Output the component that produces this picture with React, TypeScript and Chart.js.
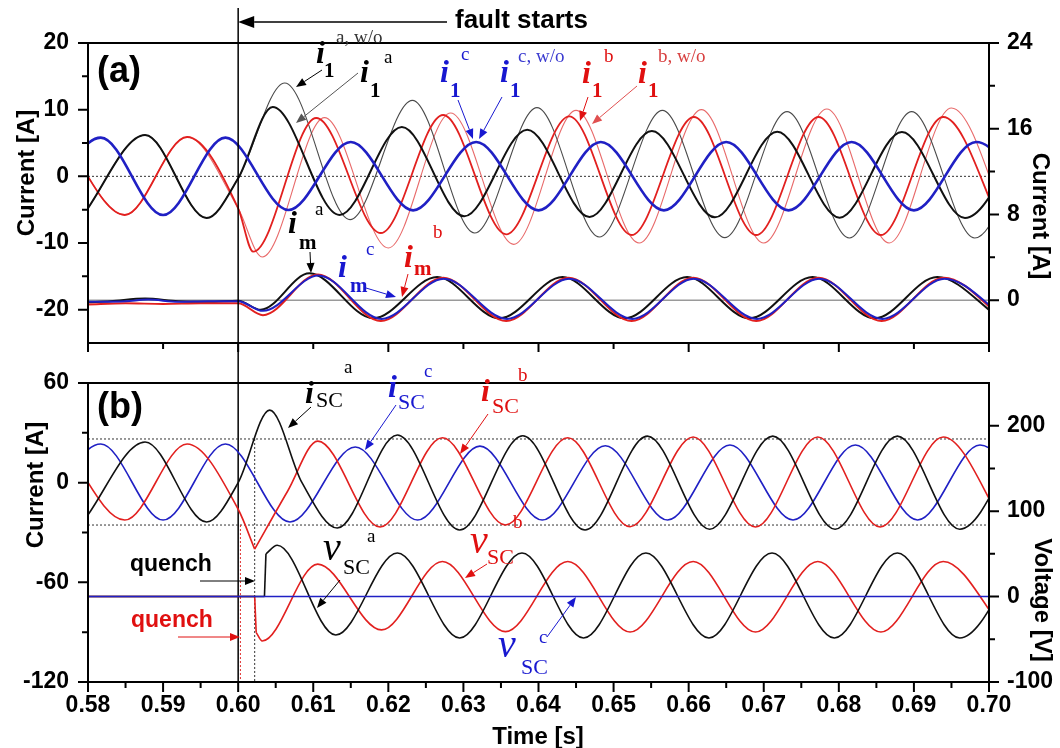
import React, { useEffect, useRef } from 'react';
import { Chart, registerables } from 'chart.js';

Chart.register(...registerables);

type Pt = [number, number];

// ---------- axes / ticks ----------
const xTicks = [0.58, 0.59, 0.6, 0.61, 0.62, 0.63, 0.64, 0.65, 0.66, 0.67, 0.68, 0.69, 0.7];
const xMinorTicks = [0.585, 0.595, 0.605, 0.615, 0.625, 0.635, 0.645, 0.655, 0.665, 0.675, 0.685, 0.695];
const aLeftTicks = [-20, -10, 0, 10, 20];
const aLeftMinor = [-15, -5, 5, 15];
const aRightTicks = [0, 8, 16, 24];
const aRightMinor = [4, 12, 20];
const bLeftTicks = [-120, -60, 0, 60];
const bLeftMinor = [-90, -30, 30];
const bRightTicks = [-100, 0, 100, 200];
const bRightMinor = [-50, 50, 150];

const faultTime = 0.6;
const quenchBlack = 0.6022;
const quenchRed = 0.6003;
const aZeroLevel = 0;
const aRightZero = 0;
const bLimitLevels = [26.3, -25.5];

// ---------- panel (a): i1 (left axis), peaks / troughs ----------
const i1c: Pt[] = [
  [0.5733, -5.8], [0.5817, 5.8], [0.59, -5.8], [0.5983, 5.8], [0.6067, -5.05], [0.615, 5.15], [0.6233, -5.1],
  [0.6317, 5.15], [0.64, -5.1], [0.6483, 5.15], [0.6567, -5.1], [0.665, 5.15], [0.6733, -5.1], [0.6817, 5.15],
  [0.69, -5.1], [0.6983, 5.15], [0.7067, -5.1],
];
const i1a: Pt[] = [
  [0.5793, -5.9], [0.5876, 6.2], [0.5958, -6.25], [0.6, -0.3], [0.6046, 10.4], [0.6135, -5.8], [0.6218, 7.4],
  [0.6301, -6.0], [0.6385, 7.0], [0.6468, -6.1], [0.6551, 6.8], [0.6635, -6.15], [0.6718, 6.7], [0.6801, -6.2],
  [0.6884, 6.65], [0.6968, -6.25], [0.7051, 6.65],
];
const i1aWo: Pt[] = [
  [0.5793, -5.9], [0.5876, 6.2], [0.5958, -6.25], [0.6, -0.3], [0.6062, 14.0], [0.6149, -6.5], [0.6232, 11.4],
  [0.6315, -8.5], [0.6398, 10.3], [0.6481, -9.1], [0.6565, 9.9], [0.6648, -9.2], [0.6731, 9.7], [0.6814, -9.25],
  [0.6897, 9.7], [0.6981, -9.25], [0.7064, 9.7],
];
const i1b: Pt[] = [
  [0.5766, 5.9], [0.5849, -5.8], [0.5932, 5.9], [0.6, -4.8], [0.602, -11.3], [0.6104, 8.75], [0.619, -8.5],
  [0.6273, 9.2], [0.6357, -8.7], [0.6441, 9.0], [0.6524, -8.8], [0.6607, 8.9], [0.669, -8.8], [0.6773, 8.9],
  [0.6856, -8.8], [0.6939, 8.9], [0.7022, -8.8],
];
const i1bWo: Pt[] = [
  [0.5766, 5.9], [0.5849, -5.8], [0.5932, 5.9], [0.6, -4.8], [0.6032, -12.1], [0.6115, 8.8], [0.62, -10.75],
  [0.6283, 9.5], [0.6367, -10.2], [0.645, 9.9], [0.6534, -10.0], [0.6617, 10.0], [0.67, -10.0], [0.6784, 10.1],
  [0.6867, -10.0], [0.695, 10.25], [0.7034, -10.0],
];

// ---------- panel (a): im (right axis) ----------
const ima: Pt[] = [
  [0.58, -0.2], [0.583, -0.1], [0.5876, 0.15], [0.592, -0.1], [0.596, -0.15], [0.6, -0.05], [0.603, -0.9],
  [0.6095, 2.5], [0.618, -1.7], [0.6265, 2.15], [0.6348, -1.7], [0.6432, 2.15], [0.6515, -1.7], [0.6598, 2.15],
  [0.6681, -1.7], [0.6765, 2.15], [0.6848, -1.7], [0.6931, 2.15], [0.7015, -1.7],
];
const imb: Pt[] = [
  [0.58, -0.4], [0.585, -0.3], [0.59, -0.35], [0.595, -0.3], [0.6, -0.3], [0.6033, -1.4], [0.6106, 2.4],
  [0.619, -1.95], [0.6273, 2.1], [0.6357, -1.95], [0.644, 2.1], [0.6524, -1.95], [0.6606, 2.1], [0.669, -1.95],
  [0.6773, 2.1], [0.6857, -1.95], [0.694, 2.1], [0.7023, -1.95],
];
const imc: Pt[] = [
  [0.58, -0.15], [0.585, -0.1], [0.588, 0.05], [0.592, -0.15], [0.596, -0.1], [0.6, -0.1], [0.6033, -1.0],
  [0.6107, 2.3], [0.6191, -1.75], [0.6274, 2.0], [0.6358, -1.75], [0.6441, 2.0], [0.6525, -1.75], [0.6607, 2.0],
  [0.6691, -1.75], [0.6774, 2.0], [0.6858, -1.75], [0.6941, 2.0], [0.7024, -1.75],
];

// ---------- panel (b): iSC (left axis) ----------
const iSCa: Pt[] = [
  [0.5795, -22.5], [0.5876, 24.5], [0.5958, -23.7], [0.6, 0], [0.6042, 43.7], [0.6085, 0], [0.6132, -27.3],
  [0.6212, 28.7], [0.6295, -28.5], [0.6379, 28.2], [0.6462, -28.5], [0.6545, 28], [0.6628, -28], [0.6712, 28],
  [0.6795, -28], [0.6878, 28], [0.6961, -28], [0.7045, 28],
];
const iSCbPre: Pt[] = [
  [0.5766, 23.3], [0.5849, -22.5], [0.5932, 23.3], [0.6, -16], [0.6022, -40],
];
const iSCbPost: Pt[] = [
  [0.6022, -40], [0.6066, -5], [0.6106, 25], [0.6189, -26.7], [0.6272, 27], [0.6356, -25.5], [0.6439, 27],
  [0.6522, -26.5], [0.6606, 27.5], [0.6689, -26.7], [0.6772, 27.5], [0.6855, -26.7], [0.6939, 27.5],
  [0.7022, -26.7],
];
const iSCc: Pt[] = [
  [0.5733, -22.5], [0.5817, 23.3], [0.59, -22.5], [0.5983, 23.3], [0.6069, -23.7], [0.6156, 21.5],
  [0.6239, -22.5], [0.6322, 22], [0.6405, -22.5], [0.6489, 22.2], [0.6572, -22.5], [0.6655, 22.7],
  [0.6739, -22.5], [0.6822, 22.7], [0.6905, -22.5], [0.6988, 22.7], [0.7072, -22.5],
];

// ---------- panel (b): vSC (right axis) ----------
const vSCaPre: Pt[] = [[0.58, 0], [0.6035, 0]];
const vSCaJump: Pt[] = [[0.6035, 0], [0.6037, 50]];
const vSCaPost: Pt[] = [
  [0.6037, 50], [0.6052, 60], [0.613, -45], [0.6212, 51], [0.6295, -48.5], [0.6378, 51], [0.646, -48.5],
  [0.6543, 51], [0.6627, -48.5], [0.6711, 51], [0.6794, -48.5], [0.6878, 51], [0.6961, -48.5], [0.7045, 51],
];
const vSCbPre: Pt[] = [[0.58, 0], [0.6022, 0]];
const vSCbDrop: Pt[] = [[0.6022, 0], [0.6024, -42]];
const vSCbPost: Pt[] = [
  [0.6024, -42], [0.6032, -52], [0.6106, 38], [0.6191, -39], [0.6272, 41], [0.6356, -41], [0.6439, 41],
  [0.6522, -41.5], [0.6606, 41], [0.6689, -41.5], [0.6772, 41], [0.6856, -41.5], [0.6939, 41], [0.7022, -41.5],
];
const vSCc: Pt[] = [[0.58, 0], [0.7, 0]];

// ---------- styles ----------
const SANS = '"Liberation Sans", Arial, sans-serif';
const SERIF = '"Liberation Serif", "Times New Roman", serif';
const BLACK = '#111111';
const BLACK_L = '#4a4a4a';
const RED = '#e2201f';
const RED_L = '#e86a6a';
const BLUE = '#2020c4';
const TXT_RED = '#e01010';
const TXT_BLUE = '#1818d0';

const MAIN = `italic bold 32px ${SERIF}`;
const SUB = `bold 21px ${SERIF}`;
const SUP = `19px ${SERIF}`;
const SCF = `22px ${SERIF}`;
const VF = `italic 40px ${SERIF}`;

const ds = (pts: Pt[], color: string, width: number, yAxisID: string, smooth = true) => ({
  data: pts.map(([x, y]) => ({ x, y })),
  borderColor: color,
  backgroundColor: color,
  borderWidth: width,
  pointRadius: 0,
  pointHoverRadius: 0,
  tension: 0,
  cubicInterpolationMode: smooth ? 'monotone' : 'default',
  yAxisID,
  fill: false,
  borderJoinStyle: 'round',
});

const tickFont = { family: SANS, size: 23, weight: 'bold' };

const yScale = (position: string, min: number, max: number, ticks: number[], width: number) => ({
  type: 'linear',
  position,
  min,
  max,
  grid: { display: false, drawTicks: false },
  border: { display: false },
  ticks: { font: tickFont, color: '#000', padding: position === 'left' ? 19 : 18, callback: (v: any) => String(v) },
  afterBuildTicks: (s: any) => { s.ticks = ticks.map((v) => ({ value: v })); },
  afterFit: (s: any) => { s.width = width; },
});

const xScale = (showLabels: boolean, height: number) => ({
  type: 'linear',
  position: 'bottom',
  min: 0.58,
  max: 0.7,
  grid: { display: false, drawTicks: false },
  border: { display: false },
  ticks: {
    display: showLabels, font: tickFont, color: '#000', padding: 10, autoSkip: false, maxRotation: 0,
    callback: (v: any) => Number(v).toFixed(2),
  },
  afterBuildTicks: (s: any) => { s.ticks = xTicks.map((v) => ({ value: v })); },
  afterFit: (s: any) => { s.height = height; },
});

// ---------- drawing helpers ----------
function arrow(ctx: any, x1: number, y1: number, x2: number, y2: number, color: string, lw = 1, head = 10, hw = 4) {
  ctx.save();
  ctx.strokeStyle = color;
  ctx.fillStyle = color;
  ctx.lineWidth = lw;
  ctx.setLineDash([]);
  const ang = Math.atan2(y2 - y1, x2 - x1);
  const bx = x2 - head * Math.cos(ang);
  const by = y2 - head * Math.sin(ang);
  ctx.beginPath();
  ctx.moveTo(x1, y1);
  ctx.lineTo(bx, by);
  ctx.stroke();
  ctx.beginPath();
  ctx.moveTo(x2, y2);
  ctx.lineTo(bx + hw * Math.sin(ang), by - hw * Math.cos(ang));
  ctx.lineTo(bx - hw * Math.sin(ang), by + hw * Math.cos(ang));
  ctx.closePath();
  ctx.fill();
  ctx.restore();
}

function texts(ctx: any, items: any[]) {
  items.forEach((it) => {
    ctx.save();
    ctx.font = it.f;
    ctx.fillStyle = it.c || '#000';
    ctx.textAlign = it.a || 'left';
    ctx.textBaseline = it.b || 'alphabetic';
    ctx.fillText(it.t, it.x, it.y);
    ctx.restore();
  });
}

function vtext(ctx: any, t: string, x: number, y: number, rot: number, font: string) {
  ctx.save();
  ctx.translate(x, y);
  ctx.rotate(rot);
  ctx.font = font;
  ctx.fillStyle = '#000';
  ctx.textAlign = 'center';
  ctx.textBaseline = 'middle';
  ctx.fillText(t, 0, 0);
  ctx.restore();
}

function yTickMarks(ctx: any, scale: any, x: number, vals: number[], len: number) {
  ctx.beginPath();
  vals.forEach((v) => {
    const p = scale.getPixelForValue(v);
    ctx.moveTo(x, p);
    ctx.lineTo(x + len, p);
  });
  ctx.stroke();
}
function xTickMarks(ctx: any, scale: any, y: number, vals: number[], len: number) {
  ctx.beginPath();
  vals.forEach((v) => {
    const p = scale.getPixelForValue(v);
    ctx.moveTo(p, y);
    ctx.lineTo(p, y + len);
  });
  ctx.stroke();
}

function frame(ctx: any, a: any) {
  ctx.save();
  ctx.strokeStyle = '#000';
  ctx.lineWidth = 2;
  ctx.setLineDash([]);
  ctx.strokeRect(a.left, a.top, a.right - a.left, a.bottom - a.top);
  ctx.restore();
}

const TITLE = `bold 24px ${SANS}`;

const labelsA = [
  { t: '(a)', x: 97, y: 72, f: `bold 36px ${SANS}`, b: 'middle' },
  { t: 'fault starts', x: 455, y: 21, f: `bold 26px ${SANS}`, b: 'middle' },
  { t: 'i', x: 316, y: 63, f: MAIN },
  { t: '1', x: 324, y: 77, f: SUB },
  { t: 'a, w/o', x: 336, y: 43, f: SUP, c: '#333' },
  { t: 'i', x: 360, y: 82, f: MAIN },
  { t: '1', x: 370, y: 97, f: SUB },
  { t: 'a', x: 384, y: 63, f: SUP },
  { t: 'i', x: 440, y: 82, f: MAIN, c: TXT_BLUE },
  { t: '1', x: 450, y: 97, f: SUB, c: TXT_BLUE },
  { t: 'c', x: 461, y: 60, f: SUP, c: TXT_BLUE },
  { t: 'i', x: 500, y: 82, f: MAIN, c: TXT_BLUE },
  { t: '1', x: 510, y: 97, f: SUB, c: TXT_BLUE },
  { t: 'c, w/o', x: 518, y: 62, f: SUP, c: '#3a3ad0' },
  { t: 'i', x: 582, y: 83, f: MAIN, c: TXT_RED },
  { t: '1', x: 592, y: 97, f: SUB, c: TXT_RED },
  { t: 'b', x: 604, y: 62, f: SUP, c: TXT_RED },
  { t: 'i', x: 638, y: 83, f: MAIN, c: TXT_RED },
  { t: '1', x: 648, y: 97, f: SUB, c: TXT_RED },
  { t: 'b, w/o', x: 658, y: 62, f: SUP, c: '#d84040' },
  { t: 'i', x: 288, y: 233, f: MAIN },
  { t: 'm', x: 299, y: 249, f: SUB },
  { t: 'a', x: 315, y: 215, f: SUP },
  { t: 'i', x: 338, y: 277, f: MAIN, c: TXT_BLUE },
  { t: 'm', x: 350, y: 292, f: SUB, c: TXT_BLUE },
  { t: 'c', x: 366, y: 255, f: SUP, c: TXT_BLUE },
  { t: 'i', x: 404, y: 267, f: MAIN, c: TXT_RED },
  { t: 'm', x: 414, y: 275, f: SUB, c: TXT_RED },
  { t: 'b', x: 433, y: 238, f: SUP, c: TXT_RED },
];

const arrowsA: any[] = [
  [322, 70, 296, 87, '#000'],
  [358, 73, 296, 123, '#555'],
  [458, 100, 473, 139, TXT_BLUE],
  [502, 97, 479, 139, TXT_BLUE],
  [588, 97, 580, 121, TXT_RED],
  [637, 86, 592, 124, '#e05050'],
  [310, 252, 311, 273, '#000'],
  [366, 288, 396, 297, TXT_BLUE],
  [408, 274, 402, 297, TXT_RED],
];

const labelsB = [
  { t: '(b)', x: 97, y: 408, f: `bold 36px ${SANS}`, b: 'middle' },
  { t: 'quench', x: 130, y: 565, f: `bold 23px ${SANS}`, b: 'middle' },
  { t: 'quench', x: 131, y: 621, f: `bold 23px ${SANS}`, b: 'middle', c: TXT_RED },
  { t: 'i', x: 305, y: 403, f: MAIN },
  { t: 'SC', x: 316, y: 407, f: SCF },
  { t: 'a', x: 344, y: 373, f: SUP },
  { t: 'i', x: 388, y: 397, f: MAIN, c: TXT_BLUE },
  { t: 'SC', x: 398, y: 409, f: SCF, c: TXT_BLUE },
  { t: 'c', x: 424, y: 377, f: SUP, c: TXT_BLUE },
  { t: 'i', x: 481, y: 401, f: MAIN, c: TXT_RED },
  { t: 'SC', x: 492, y: 413, f: SCF, c: TXT_RED },
  { t: 'b', x: 518, y: 381, f: SUP, c: TXT_RED },
  { t: 'v', x: 323, y: 560, f: VF },
  { t: 'SC', x: 343, y: 574, f: SCF },
  { t: 'a', x: 367, y: 542, f: SUP },
  { t: 'v', x: 470, y: 553, f: VF, c: TXT_RED },
  { t: 'SC', x: 487, y: 564, f: SCF, c: TXT_RED },
  { t: 'b', x: 513, y: 528, f: SUP, c: TXT_RED },
  { t: 'v', x: 498, y: 657, f: VF, c: TXT_BLUE },
  { t: 'SC', x: 521, y: 674, f: SCF, c: TXT_BLUE },
  { t: 'c', x: 539, y: 643, f: SUP, c: TXT_BLUE },
];

const arrowsB: any[] = [
  [311, 407, 288, 428, '#000'],
  [396, 405, 365, 450, TXT_BLUE],
  [488, 414, 460, 454, TXT_RED],
  [340, 580, 317, 608, '#000'],
  [487, 564, 465, 578, TXT_RED],
  [547, 637, 576, 597, TXT_BLUE],
  [200, 581, 255, 581, '#000'],
  [178, 637, 240, 637, TXT_RED],
];

const plugA = {
  id: 'panelA',
  beforeDatasetsDraw(chart: any) {
    const { ctx, chartArea: a, scales } = chart;
    ctx.save();
    ctx.lineWidth = 1;
    ctx.strokeStyle = '#333';
    ctx.setLineDash([2, 2]);
    const y0 = scales.y.getPixelForValue(aZeroLevel);
    ctx.beginPath(); ctx.moveTo(a.left, y0); ctx.lineTo(a.right, y0); ctx.stroke();
    ctx.setLineDash([]);
    ctx.strokeStyle = '#9a9a9a';
    ctx.lineWidth = 1.5;
    const yr = scales.y2.getPixelForValue(aRightZero);
    ctx.beginPath(); ctx.moveTo(a.left, yr); ctx.lineTo(a.right, yr); ctx.stroke();
    ctx.restore();
  },
  afterDraw(chart: any) {
    const { ctx, chartArea: a, scales } = chart;
    frame(ctx, a);
    ctx.save();
    ctx.strokeStyle = '#000';
    ctx.lineWidth = 2;
    yTickMarks(ctx, scales.y, a.left, aLeftTicks, -10);
    yTickMarks(ctx, scales.y, a.left, aLeftMinor, -6);
    yTickMarks(ctx, scales.y2, a.right, aRightTicks, 10);
    yTickMarks(ctx, scales.y2, a.right, aRightMinor, 6);
    xTickMarks(ctx, scales.x, a.bottom, xTicks.filter((_, i) => i % 2 === 0), 9);
    xTickMarks(ctx, scales.x, a.bottom, xTicks.filter((_, i) => i % 2 === 1), 6);
    const fx = scales.x.getPixelForValue(faultTime);
    ctx.lineWidth = 1.5;
    ctx.beginPath(); ctx.moveTo(fx, 8); ctx.lineTo(fx, 682); ctx.stroke();
    ctx.restore();
    arrow(ctx, 447, 22, fx, 22, '#000', 1.5, 16, 6);
    texts(ctx, labelsA);
    arrowsA.forEach((r) => arrow(ctx, r[0], r[1], r[2], r[3], r[4], 1, 10, 4));
    vtext(ctx, 'Current [A]', 27, 173, -Math.PI / 2, TITLE);
    vtext(ctx, 'Current [A]', 1040, 216, Math.PI / 2, TITLE);
  },
};

const plugB = {
  id: 'panelB',
  beforeDatasetsDraw(chart: any) {
    const { ctx, chartArea: a, scales } = chart;
    ctx.save();
    ctx.lineWidth = 1;
    ctx.strokeStyle = '#333';
    ctx.setLineDash([2, 2]);
    bLimitLevels.forEach((v) => {
      const p = scales.y.getPixelForValue(v);
      ctx.beginPath(); ctx.moveTo(a.left, p); ctx.lineTo(a.right, p); ctx.stroke();
    });
    const qx = scales.x.getPixelForValue(quenchBlack);
    ctx.beginPath(); ctx.moveTo(qx, scales.y.getPixelForValue(bLimitLevels[0])); ctx.lineTo(qx, a.bottom); ctx.stroke();
    const rx = scales.x.getPixelForValue(quenchRed);
    ctx.strokeStyle = '#e03030';
    ctx.beginPath(); ctx.moveTo(rx, scales.y.getPixelForValue(bLimitLevels[1])); ctx.lineTo(rx, a.bottom); ctx.stroke();
    ctx.restore();
  },
  afterDraw(chart: any) {
    const { ctx, chartArea: a, scales } = chart;
    frame(ctx, a);
    ctx.save();
    ctx.strokeStyle = '#000';
    ctx.lineWidth = 2;
    yTickMarks(ctx, scales.y, a.left, bLeftTicks, -10);
    yTickMarks(ctx, scales.y, a.left, bLeftMinor, -6);
    yTickMarks(ctx, scales.y2, a.right, bRightTicks, 10);
    yTickMarks(ctx, scales.y2, a.right, bRightMinor, 6);
    xTickMarks(ctx, scales.x, a.bottom, xTicks, 10);
    xTickMarks(ctx, scales.x, a.bottom, xMinorTicks, 6);
    ctx.restore();
    texts(ctx, labelsB);
    arrowsB.forEach((r) => arrow(ctx, r[0], r[1], r[2], r[3], r[4], 1, 10, 4));
    vtext(ctx, 'Current [A]', 36, 485, -Math.PI / 2, TITLE);
    vtext(ctx, 'Voltage [V]', 1042, 600, Math.PI / 2, TITLE);
    texts(ctx, [{ t: 'Time [s]', x: 538, y: 737, f: TITLE, a: 'center', b: 'middle' }]);
  },
};

const baseOptions = (padTop: number) => ({
  responsive: false,
  animation: false,
  devicePixelRatio: 1,
  events: [],
  parsing: false,
  layout: { padding: { top: padTop, left: 0, right: 0, bottom: 0 } },
  plugins: { legend: { display: false }, tooltip: { enabled: false }, title: { display: false } },
});

export default function App() {
  const refA = useRef<HTMLCanvasElement>(null);
  const refB = useRef<HTMLCanvasElement>(null);

  useEffect(() => {
    const cfgA: any = {
      type: 'line',
      data: {
        datasets: [
          ds(imc, BLUE, 2, 'y2'),
          ds(imb, RED, 2, 'y2'),
          ds(ima, BLACK, 2, 'y2'),
          ds(i1c, BLUE, 2.6, 'y'),
          ds(i1a, BLACK, 2, 'y'),
          ds(i1b, RED, 1.8, 'y'),
          ds(i1aWo, BLACK_L, 1.1, 'y'),
          ds(i1bWo, RED_L, 1.1, 'y'),
        ],
      },
      options: {
        ...baseOptions(43),
        scales: {
          x: xScale(false, 405),
          y: yScale('left', -25, 20, aLeftTicks, 88),
          y2: yScale('right', -4, 24, aRightTicks, 71),
        },
      },
      plugins: [plugA],
    };
    const cfgB: any = {
      type: 'line',
      data: {
        datasets: [
          ds(vSCc, BLUE, 1.6, 'y2', false),
          ds(iSCa, BLACK, 1.6, 'y'),
          ds(iSCbPre, RED, 1.6, 'y'),
          ds(iSCbPost, RED, 1.6, 'y'),
          ds(iSCc, BLUE, 1.6, 'y'),
          ds(vSCaPre, BLACK, 1.6, 'y2', false),
          ds(vSCaJump, BLACK, 1.6, 'y2', false),
          ds(vSCaPost, BLACK, 1.6, 'y2'),
          ds(vSCbPre, RED, 1.6, 'y2', false),
          ds(vSCbDrop, RED, 1.6, 'y2', false),
          ds(vSCbPost, RED, 1.6, 'y2'),
        ],
      },
      options: {
        ...baseOptions(383),
        scales: {
          x: xScale(true, 66),
          y: yScale('left', -120, 60, bLeftTicks, 88),
          y2: yScale('right', -100, 250, bRightTicks, 71),
        },
      },
      plugins: [plugB],
    };
    const ca = new Chart(refA.current as HTMLCanvasElement, cfgA);
    const cb = new Chart(refB.current as HTMLCanvasElement, cfgB);
    return () => {
      ca.destroy();
      cb.destroy();
    };
  }, []);

  return (
    <div style={{ position: 'fixed', left: 0, top: 0, width: 1060, height: 748, background: '#fff' }}>
      <canvas ref={refA} width={1060} height={748} style={{ position: 'absolute', left: 0, top: 0 }} />
      <canvas ref={refB} width={1060} height={748} style={{ position: 'absolute', left: 0, top: 0 }} />
    </div>
  );
}
